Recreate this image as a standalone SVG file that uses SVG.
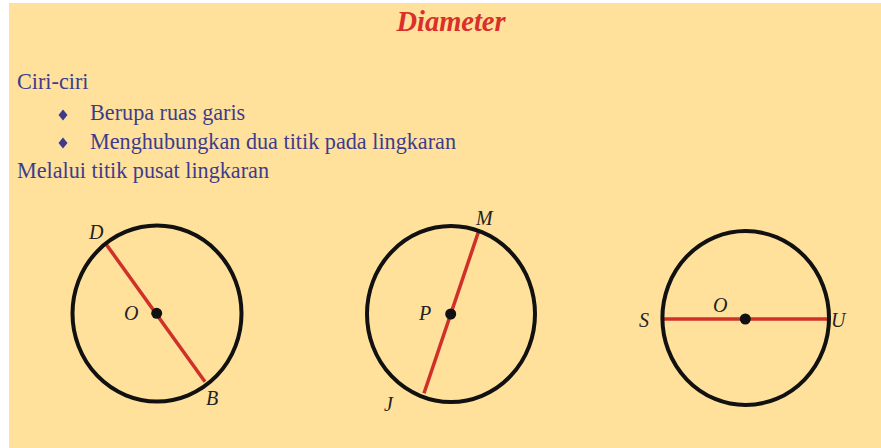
<svg xmlns="http://www.w3.org/2000/svg" width="881" height="448" viewBox="0 0 881 448">
<style>
.body{font-family:"Liberation Serif",serif;font-size:22.2px;fill:#3D3C8C}
.lbl{font-family:"Liberation Serif",serif;font-style:italic;font-size:20px;fill:#222}
.circ{fill:none;stroke:#111;stroke-width:4}
.dia{stroke:#CF3028;stroke-width:3.5;stroke-linecap:butt}
.dot{fill:#111}
.bul{fill:#3D3C8C}
</style>
<rect x="0" y="0" width="881" height="448" fill="#ffffff"/>
<rect x="9" y="3" width="872" height="445" fill="#FFE19C"/>
<text x="451" y="31" text-anchor="middle" font-family="Liberation Serif, serif" font-size="28.5" font-weight="bold" font-style="italic" fill="#D9302A">Diameter</text>
<g id="text">
<text class="body" x="17" y="89">Ciri-ciri</text>
<path class="bul" d="M63 109.5 L67.5 115 L63 120.5 L58.5 115 Z"/>
<text class="body" x="90" y="120">Berupa ruas garis</text>
<path class="bul" d="M63 137.5 L67.5 143 L63 148.5 L58.5 143 Z"/>
<text class="body" x="90" y="149">Menghubungkan dua titik pada lingkaran</text>
<text class="body" x="17" y="178">Melalui titik pusat lingkaran</text>
</g>
<g id="connectors">
<line class="dia" x1="106.7" y1="245" x2="205" y2="381.7"/>
<line class="dia" x1="478.3" y1="232.3" x2="424" y2="393.3"/>
<line class="dia" x1="662.3" y1="319" x2="829" y2="319"/>
</g>
<g id="circle1">
<ellipse class="circ" cx="157" cy="313.5" rx="84.5" ry="88"/>
<circle class="dot" cx="156.7" cy="313.3" r="5.5"/>
<text class="lbl" x="89" y="239">D</text>
<text class="lbl" x="124" y="320">O</text>
<text class="lbl" x="206" y="405">B</text>
</g>
<g id="circle2">
<ellipse class="circ" cx="451" cy="314" rx="84" ry="88"/>
<circle class="dot" cx="450.7" cy="314" r="5.5"/>
<text class="lbl" x="476" y="225">M</text>
<text class="lbl" x="419" y="320">P</text>
<text class="lbl" x="384" y="411">J</text>
</g>
<g id="circle3">
<ellipse class="circ" cx="745.7" cy="318" rx="83.3" ry="87"/>
<circle class="dot" cx="745.3" cy="319" r="5.5"/>
<text class="lbl" x="639" y="327">S</text>
<text class="lbl" x="713" y="312">O</text>
<text class="lbl" x="831" y="327">U</text>
</g>
</svg>
